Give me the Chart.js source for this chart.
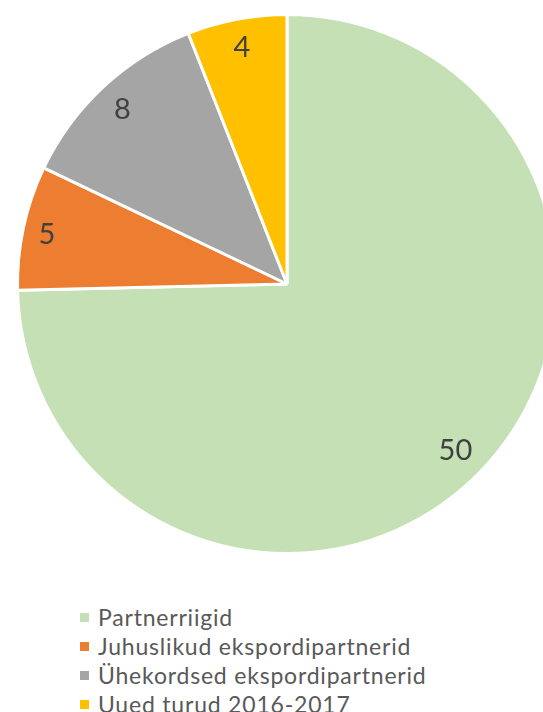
<!DOCTYPE html>
<html>
<head>
<meta charset="utf-8">
<script src="https://cdn.jsdelivr.net/npm/chart.js@4.4.1/dist/chart.umd.min.js"></script>
<style>
  html, body { margin: 0; padding: 0; background: #ffffff; overflow: hidden; width: 543px; height: 712px; }
  #wrap { position: absolute; left: 0; top: 0; width: 574px; height: 572px; }
  #legend { position: absolute; left: 78px; top: 603px; margin: 0; padding: 0; list-style: none;
            font-family: Lato, "Liberation Sans", sans-serif; font-size: 23px; letter-spacing: 0.8px; color: #595959; }
  #legend li { position: relative; height: 29px; line-height: 29px; padding-left: 20px; white-space: nowrap; }
  #legend span.box { position: absolute; left: 2px; top: 10px; width: 9px; height: 9px; }
</style>
</head>
<body>
<div id="wrap"><canvas id="chart"></canvas></div>
<ul id="legend"></ul>
<script>
// Categories and values of the pie
const categories = ['Partnerriigid', 'Juhuslikud ekspordipartnerid', 'Ühekordsed ekspordipartnerid', 'Uued turud 2016-2017'];
const counts = [50, 5, 8, 4];
const sliceColors = ['#C5E0B4', '#ED7D31', '#A5A5A5', '#FFC000'];

// Value labels placed at the inside end of each slice:
// the label box is pushed outward along the slice's mid-angle until it
// sits a fixed gap inside the rim.
const sliceLabels = {
  id: 'sliceLabels',
  afterDatasetsDraw(chart) {
    const ctx = chart.ctx;
    const meta = chart.getDatasetMeta(0);
    ctx.save();
    ctx.font = '29px Lato, "Liberation Sans", sans-serif';
    ctx.fillStyle = '#404040';
    ctx.textAlign = 'center';
    ctx.textBaseline = 'middle';
    meta.data.forEach((arc, i) => {
      const p = arc.getProps(['x', 'y', 'startAngle', 'endAngle', 'outerRadius'], true);
      const text = String(counts[i]);
      const mid = (p.startAngle + p.endAngle) / 2;
      const halfW = ctx.measureText(text).width / 2;
      const halfH = 13;
      const reach = halfW * Math.abs(Math.cos(mid)) + halfH * Math.abs(Math.sin(mid));
      const r = p.outerRadius - 13 - reach;
      ctx.fillText(text, p.x + Math.cos(mid) * r, p.y + Math.sin(mid) * r + 2);
    });
    ctx.restore();
  }
};

new Chart(document.getElementById('chart'), {
  type: 'pie',
  data: {
    labels: categories,
    datasets: [{
      data: counts,
      backgroundColor: sliceColors,
      borderColor: '#ffffff',
      borderWidth: 3
    }]
  },
  options: {
    responsive: true,
    maintainAspectRatio: false,
    animation: false,
    layout: { padding: { top: 13, bottom: 17, left: 0, right: 0 } },
    plugins: {
      legend: { display: false },
      tooltip: { enabled: false }
    }
  },
  plugins: [sliceLabels]
});

// Vertical legend below the pie
const legend = document.getElementById('legend');
categories.forEach((name, i) => {
  const li = document.createElement('li');
  const box = document.createElement('span');
  box.className = 'box';
  box.style.background = sliceColors[i];
  li.appendChild(box);
  li.appendChild(document.createTextNode(name));
  legend.appendChild(li);
});
</script>
</body>
</html>
